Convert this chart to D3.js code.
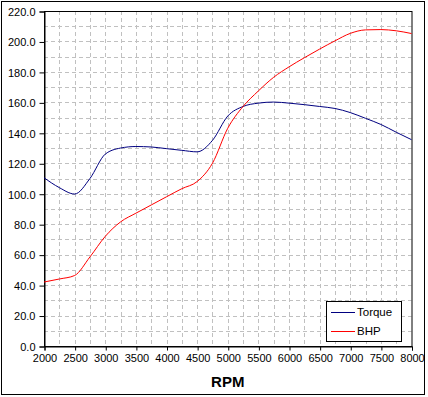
<!DOCTYPE html>
<html><head><meta charset="utf-8">
<script src="https://cdn.jsdelivr.net/npm/d3@7"></script>
<style>body{margin:0;background:#fff}svg{display:block}</style>
</head><body><svg id="c" width="428" height="397"></svg>
<script>
const rpm = [2000,2250,2500,2750,3000,3250,3500,3750,4000,4250,4500,4750,5000,5250,5500,5750,6000,6250,6500,6750,7000,7250,7500,7750,8000];
const torque = [110.5,104,99.8,110,126,130,131,130.7,129.6,128.5,127.5,135,151,157.3,159.5,160.2,159.5,158.5,157.3,156,153.3,149.5,145.5,140.4,135.5];
const bhp = [42,44,46.3,58.5,72,81.5,87.2,92.6,98,103.3,108,120,143,157.3,167.5,176.5,183.3,189.3,195,200.4,205.3,207.6,207.8,207,205.2];
const seriesNames = ["Torque","BHP"];
const xTicks = [2000,2500,3000,3500,4000,4500,5000,5500,6000,6500,7000,7500,8000];
const yTicks = [0,20,40,60,80,100,120,140,160,180,200,220];
const xTitle = "RPM";

const svg = d3.select("#c");
const L=44, R=411.5, T=11, B=346;
const x = d3.scaleLinear().domain([2000,8000]).range([L,R]);
const y = d3.scaleLinear().domain([0,220]).range([B,T]);
const font = "'Liberation Sans', Arial, sans-serif";

svg.append("rect").attr("x",1.5).attr("y",1.5).attr("width",423).attr("height",393)
  .attr("fill","#fff").attr("stroke","#000");

const g = svg.append("g");
const xg = d3.range(2000,8001,250).filter(v=>v>2000&&v<8000);
const yg = d3.range(0,221,10).filter(v=>v>0&&v<220);
g.selectAll(".vg").data(xg).join("line")
  .attr("x1",d=>Math.round(x(d))+0.5).attr("x2",d=>Math.round(x(d))+0.5)
  .attr("y1",T).attr("y2",B).attr("stroke","#c0c0c0").attr("stroke-dasharray","4,3");
g.selectAll(".hg").data(yg).join("line")
  .attr("y1",d=>Math.round(y(d))+0.5).attr("y2",d=>Math.round(y(d))+0.5)
  .attr("x1",L).attr("x2",R).attr("stroke","#c0c0c0").attr("stroke-dasharray","4,3");

g.append("rect").attr("x",L+0.5).attr("y",T+0.5).attr("width",R-L).attr("height",B-T)
  .attr("fill","none").attr("stroke","#000");

const xAxis = d3.axisBottom(x).tickValues(xTicks).tickSize(4).tickFormat(d3.format("d"));
const yAxis = d3.axisLeft(y).tickValues(yTicks).tickSize(5).tickFormat(d3.format(".1f"));
const xa = svg.append("g").attr("transform",`translate(0.5,${B+0.5})`).call(xAxis);
const ya = svg.append("g").attr("transform",`translate(${L+0.5},0.5)`).call(yAxis);
[xa,ya].forEach(a=>{
  a.select(".domain").attr("stroke","#000");
  a.selectAll(".tick line").attr("stroke","#000");
  a.selectAll("text").attr("font-family",font).attr("font-size",11).attr("fill","#000");
});
xa.selectAll("text").attr("dy","0.71em").attr("y",8);
ya.selectAll("text").attr("x",-9).attr("dy","0.35em");

svg.append("text").attr("x",(L+R)/2).attr("y",387).attr("text-anchor","middle")
  .attr("font-family",font).attr("font-weight","bold").attr("font-size",15).text(xTitle);

const line = d3.line().x((d,i)=>x(rpm[i])).y(d=>y(d)).curve(d3.curveMonotoneX);
const colors = ["#000080","#ff0000"];
[torque,bhp].forEach((s,k)=>{
  svg.append("path").attr("d",line(s)).attr("fill","none").attr("stroke",colors[k]).attr("stroke-width",1);
});

const lg = svg.append("g");
lg.append("rect").attr("x",326.5).attr("y",301.5).attr("width",75).attr("height",40)
  .attr("fill","#fff").attr("stroke","#000");
seriesNames.forEach((n,i)=>{
  const yy = 312 + i*19;
  lg.append("line").attr("x1",331).attr("x2",355).attr("y1",yy+0.5).attr("y2",yy+0.5)
    .attr("stroke",colors[i]).attr("stroke-width",1);
  lg.append("text").attr("x",357).attr("y",yy).attr("dy","0.35em")
    .attr("font-family",font).attr("font-size",11.5).text(n);
});
</script></body></html>
